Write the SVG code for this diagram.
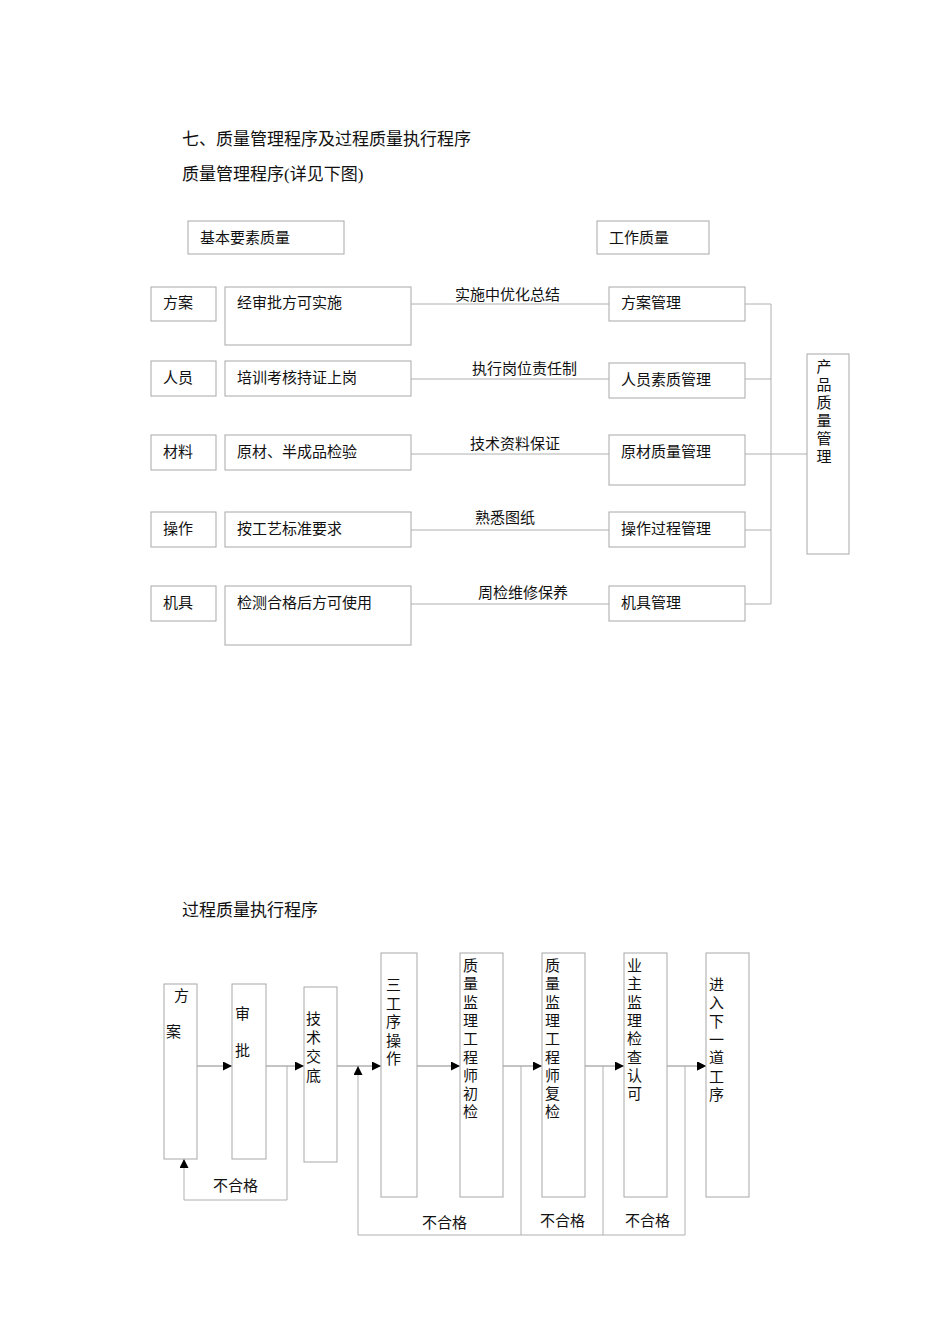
<svg xmlns="http://www.w3.org/2000/svg" width="950" height="1344" viewBox="0 0 950 1344">
<style>
text{font-family:"Liberation Serif","Noto Sans CJK SC",serif;font-size:15px;fill:#111}
.t{font-size:17px}
.b{fill:#fff;stroke:#a8a8a8;stroke-width:1}
.l{fill:none;stroke:#b0b0b0;stroke-width:1}
.v{text-anchor:middle}
</style>
<defs><marker id="a" viewBox="0 0 10 10" refX="10" refY="5" markerWidth="9" markerHeight="9" orient="auto" markerUnits="userSpaceOnUse"><path d="M0,0L10,5L0,10z" fill="#000"/></marker></defs>
<rect width="950" height="1344" fill="#fff"/>
<text class="t" x="182" y="145">七、质量管理程序及过程质量执行程序</text>
<text class="t" x="182" y="180">质量管理程序(详见下图)</text>
<text class="t" x="182" y="916">过程质量执行程序</text>
<g id="h1"><rect class="b" x="188" y="221" width="156" height="33"/><text x="200" y="243">基本要素质量</text></g>
<g id="h2"><rect class="b" x="597" y="221" width="112" height="33"/><text x="609" y="243">工作质量</text></g>
<g id="n1a"><rect class="b" x="151" y="287" width="65" height="34"/><text x="163" y="308">方案</text></g>
<g id="n2a"><rect class="b" x="151" y="361" width="65" height="35"/><text x="163" y="383">人员</text></g>
<g id="n3a"><rect class="b" x="151" y="435" width="65" height="35"/><text x="163" y="457">材料</text></g>
<g id="n4a"><rect class="b" x="151" y="512" width="65" height="35"/><text x="163" y="534">操作</text></g>
<g id="n5a"><rect class="b" x="151" y="586" width="65" height="35"/><text x="163" y="608">机具</text></g>
<g id="n1b"><rect class="b" x="225" y="287" width="186" height="58"/><text x="237" y="308">经审批方可实施</text></g>
<g id="n2b"><rect class="b" x="225" y="361" width="186" height="35"/><text x="237" y="383">培训考核持证上岗</text></g>
<g id="n3b"><rect class="b" x="225" y="435" width="186" height="35"/><text x="237" y="457">原材、半成品检验</text></g>
<g id="n4b"><rect class="b" x="225" y="512" width="186" height="35"/><text x="237" y="534">按工艺标准要求</text></g>
<g id="n5b"><rect class="b" x="225" y="586" width="186" height="59"/><text x="237" y="608">检测合格后方可使用</text></g>
<g id="n1c"><rect class="b" x="609" y="287" width="136" height="34"/><text x="621" y="308">方案管理</text></g>
<g id="n2c"><rect class="b" x="609" y="363" width="136" height="35"/><text x="621" y="385">人员素质管理</text></g>
<g id="n3c"><rect class="b" x="609" y="435" width="136" height="50"/><text x="621" y="457">原材质量管理</text></g>
<g id="n4c"><rect class="b" x="609" y="512" width="136" height="35"/><text x="621" y="534">操作过程管理</text></g>
<g id="n5c"><rect class="b" x="609" y="586" width="136" height="35"/><text x="621" y="608">机具管理</text></g>
<g id="prod"><rect class="b" x="807" y="354" width="42" height="200"/><text class="v" x="824" y="372"><tspan x="824">产</tspan><tspan x="824" dy="18">品</tspan><tspan x="824" dy="18">质</tspan><tspan x="824" dy="18">量</tspan><tspan x="824" dy="18">管</tspan><tspan x="824" dy="18">理</tspan></text></g>
<g id="connectors">
<path class="l" d="M411,304H609M411,379H609M411,454H609M411,530H609M411,604H609"/>
<path class="l" d="M745,304H771M745,379H771M745,454H807M745,530H771M745,604H771M771,304V604"/>
<text x="455" y="300">实施中优化总结</text>
<text x="472" y="374">执行岗位责任制</text>
<text x="470" y="449">技术资料保证</text>
<text x="475" y="523">熟悉图纸</text>
<text x="478" y="598">周检维修保养</text>
<path class="l" d="M197,1066H232M266,1066H304M337,1066H381M417,1066H460M503,1066H542M585,1066H624M667,1066H706" marker-end="url(#a)"/>
<path class="l" d="M197,1066H232" marker-end="url(#a)"/>
<path class="l" d="M266,1066H304" marker-end="url(#a)"/>
<path class="l" d="M337,1066H381" marker-end="url(#a)"/>
<path class="l" d="M417,1066H460" marker-end="url(#a)"/>
<path class="l" d="M503,1066H542" marker-end="url(#a)"/>
<path class="l" d="M585,1066H624" marker-end="url(#a)"/>
<path class="l" d="M667,1066H706" marker-end="url(#a)"/>
<path class="l" d="M287,1066V1200H184V1159" marker-end="url(#a)"/>
<path class="l" d="M521,1066V1235M603,1066V1235M685,1066V1235M685,1235H358V1066" marker-end="url(#a)"/>
<text x="213" y="1191">不合格</text>
<text x="422" y="1228">不合格</text>
<text x="540" y="1226">不合格</text>
<text x="625" y="1226">不合格</text>
</g>
<g id="p1"><rect class="b" x="164" y="984" width="33" height="175"/><text x="174" y="1001">方</text><text x="166" y="1037">案</text></g>
<g id="p2"><rect class="b" x="232" y="984" width="34" height="175"/><text x="235" y="1019">审</text><text x="235" y="1056">批</text></g>
<g id="p3"><rect class="b" x="304" y="987" width="33" height="175"/><text x="306" y="1024"><tspan x="306">技</tspan><tspan x="306" dy="19">术</tspan><tspan x="306" dy="19">交</tspan><tspan x="306" dy="19">底</tspan></text></g>
<g id="p4"><rect class="b" x="381" y="953" width="36" height="244"/><text x="386" y="990"><tspan x="386">三</tspan><tspan x="386" dy="18.5">工</tspan><tspan x="386" dy="18.5">序</tspan><tspan x="386" dy="18.5">操</tspan><tspan x="386" dy="18.5">作</tspan></text></g>
<g id="p5"><rect class="b" x="460" y="953" width="43" height="244"/><text x="463" y="971"><tspan x="463">质</tspan><tspan x="463" dy="18.3">量</tspan><tspan x="463" dy="18.3">监</tspan><tspan x="463" dy="18.3">理</tspan><tspan x="463" dy="18.3">工</tspan><tspan x="463" dy="18.3">程</tspan><tspan x="463" dy="18.3">师</tspan><tspan x="463" dy="18.3">初</tspan><tspan x="463" dy="18.3">检</tspan></text></g>
<g id="p6"><rect class="b" x="542" y="953" width="43" height="244"/><text x="545" y="971"><tspan x="545">质</tspan><tspan x="545" dy="18.3">量</tspan><tspan x="545" dy="18.3">监</tspan><tspan x="545" dy="18.3">理</tspan><tspan x="545" dy="18.3">工</tspan><tspan x="545" dy="18.3">程</tspan><tspan x="545" dy="18.3">师</tspan><tspan x="545" dy="18.3">复</tspan><tspan x="545" dy="18.3">检</tspan></text></g>
<g id="p7"><rect class="b" x="624" y="953" width="43" height="244"/><text x="627" y="971"><tspan x="627">业</tspan><tspan x="627" dy="18.3">主</tspan><tspan x="627" dy="18.3">监</tspan><tspan x="627" dy="18.3">理</tspan><tspan x="627" dy="18.3">检</tspan><tspan x="627" dy="18.3">查</tspan><tspan x="627" dy="18.3">认</tspan><tspan x="627" dy="18.3">可</tspan></text></g>
<g id="p8"><rect class="b" x="706" y="953" width="43" height="244"/><text x="709" y="990"><tspan x="709">进</tspan><tspan x="709" dy="18.3">入</tspan><tspan x="709" dy="18.3">下</tspan><tspan x="709" dy="18.3">一</tspan><tspan x="709" dy="18.3">道</tspan><tspan x="709" dy="18.3">工</tspan><tspan x="709" dy="18.3">序</tspan></text></g>
</svg>
